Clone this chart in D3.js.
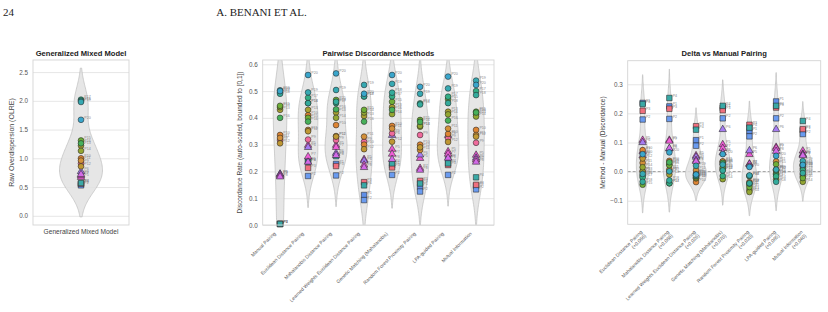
<!DOCTYPE html>
<html>
<head>
<meta charset="utf-8">
<script src="https://cdn.jsdelivr.net/npm/d3@7"></script>
<style>
  body { margin: 0; background: #fff; }
  text { font-family: "Liberation Sans", Arial, sans-serif; }
</style>
</head>
<body>
<script>
// participants and their per-panel values
const participants = ["P1","P2","P3","P4","P5","P6","P7","P8","P9","P10",
                      "P11","P12","P13","P14","P15","P16","P17","P18","P19","P20"];
const olre = [0.55, 0.53, 0.56, 0.57, 0.67, 0.77, 0.70, 0.72, 0.91, 1.00,
              0.96, 0.86, 1.22, 1.13, 1.31, 1.26, 2.02, 2.00, 1.98, 1.67];

const methods = ["Manual Pairing", "Euclidean Distance Pairing", "Mahalanobis Distance Pairing",
                 "Learned Weights Euclidean Distance Pairing", "Genetic Matching (Mahalanobis)",
                 "Random Forest Proximity Pairing", "LPA-guided Pairing", "Mutual Information"];
const manual      = [0.004, 0.004, 0.004, 0.004, 0.19, 0.19, 0.185, 0.18, 0.317, 0.336, 0.325, 0.305, 0.43, 0.44, 0.445, 0.40, 0.495, 0.49, 0.503, 0.50];
const euclidean   = [0.24, 0.183, 0.213, 0.236, 0.298, 0.29, 0.255, 0.235, 0.319, 0.41, 0.355, 0.35, 0.43, 0.455, 0.40, 0.386, 0.475, 0.455, 0.495, 0.56];
const mahalanobis = [0.228, 0.185, 0.22, 0.257, 0.298, 0.268, 0.29, 0.26, 0.317, 0.373, 0.332, 0.33, 0.42, 0.40, 0.467, 0.432, 0.455, 0.46, 0.504, 0.566];
const learned     = [0.112, 0.093, 0.16, 0.148, 0.245, 0.24, 0.224, 0.215, 0.311, 0.30, 0.33, 0.283, 0.407, 0.42, 0.43, 0.386, 0.48, 0.48, 0.523, 0.49];
const genetic     = [0.223, 0.187, 0.215, 0.23, 0.283, 0.335, 0.265, 0.245, 0.342, 0.37, 0.36, 0.311, 0.44, 0.414, 0.46, 0.43, 0.48, 0.494, 0.527, 0.56];
const forest      = [0.143, 0.125, 0.165, 0.155, 0.249, 0.262, 0.212, 0.205, 0.336, 0.30, 0.28, 0.29, 0.367, 0.37, 0.392, 0.385, 0.454, 0.45, 0.49, 0.516];
const lpa         = [0.245, 0.187, 0.224, 0.23, 0.274, 0.335, 0.265, 0.25, 0.324, 0.34, 0.36, 0.31, 0.423, 0.413, 0.47, 0.39, 0.479, 0.455, 0.51, 0.554];
const mutual      = [0.146, 0.133, 0.15, 0.178, 0.261, 0.25, 0.243, 0.235, 0.307, 0.355, 0.336, 0.33, 0.413, 0.405, 0.423, 0.42, 0.50, 0.485, 0.539, 0.523];

const deltaMeans = ["(+0.066)", "(+0.068)", "(+0.026)", "(+0.070)", "(+0.020)", "(+0.065)", "(+0.040)"];

const olreTicks = [0, 0.5, 1.0, 1.5, 2.0, 2.5];
const rateTicks = [0, 0.1, 0.2, 0.3, 0.4, 0.5, 0.6];
const deltaTicks = [-0.1, 0, 0.1, 0.2, 0.3];

// styling
const colors = ["#5f8fe8","#6a9bf0","#f0707e","#3aa9a6","#e85ad0","#a77cf2","#f05fd8","#d36ae8","#ef6a9c","#dd8433",
                "#d3903a","#bf9733","#a9a032","#93a632","#6eae37","#47b05a","#33ae85","#34ab9c","#37a9b2","#3aa6cc"];
const shapes = participants.map((p, i) => i < 4 ? d3.symbolSquare : i < 8 ? d3.symbolTriangle : d3.symbolCircle);

const discordance = [manual, euclidean, mahalanobis, learned, genetic, forest, lpa, mutual];
const deltas = discordance.slice(1).map(m => m.map((v, i) => v - manual[i]));

const W = 828, H = 312;
const svg = d3.select("body").append("svg").attr("width", W).attr("height", H);
svg.append("rect").attr("width", W).attr("height", H).attr("fill", "#fff");

// page header
svg.append("text").attr("x", 3).attr("y", 16).text("24")
  .style("font-family", "'Liberation Serif', serif").style("font-size", "11px").attr("fill", "#222");
svg.append("text").attr("x", 261.5).attr("y", 16).attr("text-anchor", "middle").text("A. BENANI ET AL.")
  .style("font-family", "'Liberation Serif', serif").style("font-size", "11px").attr("fill", "#222");

// gaussian kde, scott bandwidth, cut = 2 (like seaborn)
function kde(vals) {
  const bw = d3.deviation(vals) * Math.pow(vals.length, -0.2);
  const lo = d3.min(vals) - 2 * bw, hi = d3.max(vals) + 2 * bw;
  return d3.range(121).map(k => {
    const t = lo + (hi - lo) * k / 120;
    const dens = d3.mean(vals, v => Math.exp(-0.5 * ((t - v) / bw) ** 2)) / (bw * Math.sqrt(2 * Math.PI));
    return [t, dens];
  });
}

let clipId = 0;
function panel(o) {
  const g = svg.append("g");
  const x = d3.scaleLinear().domain(o.xDomain).range([o.left, o.right]);
  const y = d3.scaleLinear().domain(o.yDomain).range([o.bottom, o.top]);

  // grid + y tick labels
  const ax = g.append("g").attr("transform", `translate(${o.left},0)`)
    .call(d3.axisLeft(y).tickValues(o.yTicks).tickFormat(d3.format(".1f"))
      .tickSize(-(o.right - o.left)).tickPadding(5));
  ax.select(".domain").remove();
  ax.selectAll("line").attr("stroke", "#e3e3e3").attr("stroke-width", 0.9);
  ax.selectAll("text").attr("fill", "#555").style("font-size", "6.3px")
    .style("font-family", "'Liberation Sans', Arial, sans-serif");

  const id = "clip" + (clipId++);
  g.append("clipPath").attr("id", id).append("rect")
    .attr("x", o.left).attr("y", o.top).attr("width", o.right - o.left).attr("height", o.bottom - o.top);

  if (o.zeroLine) {
    g.append("line").attr("x1", o.left).attr("x2", o.right).attr("y1", y(0)).attr("y2", y(0))
      .attr("stroke", "#888").attr("stroke-width", 0.8).attr("stroke-dasharray", "3,2");
  }

  const dens = o.groups.map(kde);
  const maxD = d3.max(dens, d => d3.max(d, e => e[1]));
  const wScale = d3.scaleLinear().domain([0, maxD]).range([0, o.maxHalf]);

  const vg = g.append("g").attr("clip-path", `url(#${id})`);
  dens.forEach((d, i) => {
    const cx = x(i);
    vg.append("path").datum(d)
      .attr("d", d3.area().x0(e => cx - wScale(e[1])).x1(e => cx + wScale(e[1])).y(e => y(e[0])).curve(d3.curveBasis))
      .attr("fill", "#e2e2e2").attr("fill-opacity", 0.85)
      .attr("stroke", "#bdbdbd").attr("stroke-width", 0.7);
  });

  // points and their tiny labels
  o.groups.forEach((vals, i) => {
    const cx = x(i);
    vals.forEach((v, j) => {
      g.append("text").attr("x", cx + 3.3).attr("y", y(v) - 1.2).text(participants[j])
        .attr("fill", "#888").style("font-size", "3.6px");
    });
    vals.forEach((v, j) => {
      const sh = shapes[j];
      const size = sh === d3.symbolCircle ? 26 : sh === d3.symbolSquare ? 30 : 24;
      g.append("path").attr("d", d3.symbol().type(sh).size(size)())
        .attr("transform", `translate(${cx},${y(v)})`)
        .attr("fill", colors[j]).attr("stroke", "#222").attr("stroke-width", 0.55);
    });
  });

  // frame
  g.append("rect").attr("x", o.left).attr("y", o.top)
    .attr("width", o.right - o.left).attr("height", o.bottom - o.top)
    .attr("fill", "none").attr("stroke", "#d4d4d4").attr("stroke-width", 0.9);

  // title
  g.append("text").attr("x", (o.left + o.right) / 2).attr("y", 56).attr("text-anchor", "middle")
    .text(o.title).attr("fill", "#222").style("font-size", "7.6px").style("font-weight", "bold");

  // y label
  g.append("text")
    .attr("transform", `translate(${o.ylabelX},${(o.top + o.bottom) / 2}) rotate(-90)`)
    .attr("text-anchor", "middle").text(o.ylabel)
    .attr("fill", "#444").style("font-size", o.ylabelSize + "px");

  // x labels
  o.xlabels.forEach((lab, i) => {
    if (o.flat) {
      g.append("text").attr("x", x(i)).attr("y", o.bottom + 9).attr("text-anchor", "middle")
        .text(lab[0]).attr("fill", "#444").style("font-size", "6.6px");
      return;
    }
    const t = g.append("text")
      .attr("transform", `translate(${x(i) + o.lx},${o.bottom + o.ly}) rotate(-45)`)
      .attr("text-anchor", "end").attr("fill", "#555").style("font-size", "4.9px");
    lab.forEach((line, k) => t.append("tspan").attr("x", 0).attr("y", k * 5.4).text(line));
  });
}

panel({
  left: 33, right: 129, top: 60, bottom: 225,
  xDomain: [-0.5, 0.5], yDomain: [-0.16, 2.71], yTicks: olreTicks,
  groups: [olre], maxHalf: 21.5,
  title: "Generalized Mixed Model", ylabel: "Raw Overdispersion (OLRE)", ylabelX: 14, ylabelSize: 7,
  xlabels: [["Generalized Mixed Model"]], flat: true
});

panel({
  left: 262.7, right: 494, top: 60, bottom: 225,
  xDomain: [-0.62, 7.64], yDomain: [0, 0.616], yTicks: rateTicks,
  groups: discordance, maxHalf: 11,
  title: "Pairwise Discordance Methods", ylabel: "Discordance Rate (auto-scaled, bounded to [0,1])",
  ylabelX: 242, ylabelSize: 6.5,
  xlabels: methods.map(m => [m]), lx: -4, ly: 9
});

panel({
  left: 627.7, right: 820.7, top: 60.7, bottom: 224.3,
  xDomain: [-0.56, 6.67], yDomain: [-0.181, 0.381], yTicks: deltaTicks,
  groups: deltas, maxHalf: 10.5, zeroLine: true,
  title: "Delta vs Manual Pairing", ylabel: "Method - Manual (Discordance)",
  ylabelX: 605, ylabelSize: 6.6,
  xlabels: methods.slice(1).map((m, i) => [m, deltaMeans[i]]), lx: 0, ly: 8
});
</script>
</body>
</html>
